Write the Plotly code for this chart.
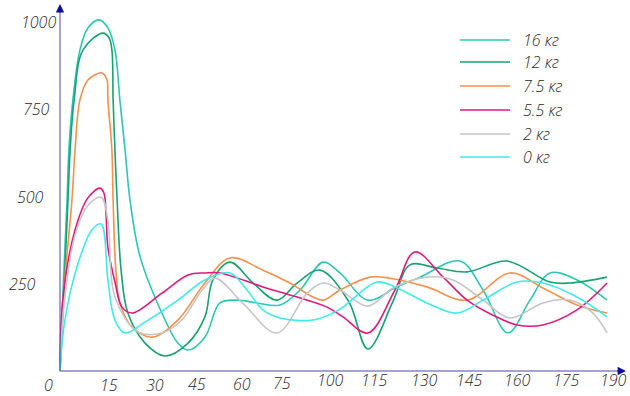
import plotly.graph_objects as go

# ---------------- data ----------------
series_names = ["16 кг", "12 кг", "7.5 кг", "5.5 кг", "2 кг", "0 кг"]
x_tick_labels = ["0", "15", "30", "45", "60", "75", "100", "115", "130", "145", "160", "175", "190"]
y_tick_values = [250, 500, 750, 1000]

x_16 = [0, 1.0, 2.3, 2.9, 4.2, 6.5, 9.1, 12.7, 15.6, 17.9, 19.5, 21.2, 22.8, 26.1, 33.2, 38.4, 41.7,
        47.2, 52.1, 57.7, 64.2, 71.7, 78.2, 85.7, 91.2, 100.3, 109.8, 117.3, 130.3, 137.8, 145.9,
        153.1, 159.6, 168.4, 178.2]
y_16 = [0, 232, 490, 633, 777, 920, 983, 1006, 983, 920, 777, 633, 490, 327, 166, 80, 60,
        97, 195, 203, 195, 189, 232, 312, 281, 203, 241, 269, 315, 232, 109,
        203, 281, 261, 203]

x_12 = [0, 1.3, 2.6, 3.3, 4.6, 7.5, 14.0, 16.0, 16.9, 17.3, 17.9, 18.6, 19.9, 22.1, 27.7, 34.2,
        41.7, 47.2, 49.8, 55.4, 62.9, 70.7, 77.2, 84.7, 94.0, 100.3, 108.5, 114.0, 122.8, 132.6,
        145.6, 159.6, 166.1, 178.2]
y_12 = [0, 232, 490, 633, 777, 920, 968, 954, 920, 777, 633, 490, 289, 166, 80, 43,
        80, 155, 261, 312, 252, 203, 252, 289, 200, 63, 200, 304, 295, 284,
        315, 255, 252, 269]

x_75 = [0, 1.3, 3.9, 4.9, 6.5, 9.1, 13.7, 15.3, 15.6, 16.9, 17.3, 18.2, 19.5, 23.5, 30.0, 38.4, 47.2,
        55.4, 66.1, 74.9, 82.4, 85.7, 91.2, 101.0, 107.5, 119.5, 132.6, 146.6, 157.3, 168.4, 178.2]
y_75 = [0, 232, 490, 633, 777, 834, 854, 834, 777, 633, 490, 289, 195, 126, 97, 146, 252,
        324, 289, 252, 212, 203, 232, 269, 266, 241, 203, 281, 238, 189, 166]

x_55 = [0, 1.0, 4.9, 9.1, 13.0, 14.3, 15.0, 15.6, 17.9, 20.2, 23.5, 33.2, 41.7, 47.2, 52.1, 66.1,
        77.2, 87.0, 92.2, 100.3, 109.1, 115.6, 124.8, 132.6, 141.0, 148.9, 157.3, 168.4, 178.2]
y_55 = [0, 212, 404, 496, 524, 510, 447, 355, 255, 183, 166, 223, 275, 281, 281, 241,
        212, 183, 155, 109, 232, 341, 269, 203, 160, 132, 132, 175, 252]

x_2 = [0, 1.3, 4.9, 9.1, 13.4, 15.6, 17.9, 25.4, 33.2, 39.7, 46.3, 50.5, 60.0, 70.7, 80.5, 85.7,
       91.2, 100.3, 108.5, 119.5, 128.0, 137.8, 146.6, 157.3, 166.1, 173.6, 178.2]
y_2 = [0, 190, 390, 475, 498, 430, 212, 112, 109, 146, 232, 266, 190, 109, 223, 252,
       232, 186, 238, 269, 261, 203, 152, 195, 203, 166, 109]

x_0 = [0, 1.6, 5.9, 10.4, 13.4, 15.6, 17.9, 21.2, 27.7, 38.4, 47.2, 55.4, 60.9, 66.1, 71.7, 82.4,
       88.9, 92.2, 103.3, 109.8, 119.5, 129.3, 137.8, 148.9, 157.3, 168.4, 178.2]
y_0 = [0, 146, 309, 404, 421, 261, 146, 109, 140, 203, 261, 281, 232, 175, 152, 146,
       166, 183, 255, 238, 195, 166, 203, 255, 252, 212, 155]

series_x = [x_16, x_12, x_75, x_55, x_2, x_0]
series_y = [y_16, y_12, y_75, y_55, y_2, y_0]

# ---------------- style ----------------
colors = ["#2cc6b6", "#17a36f", "#f5914a", "#e0187f", "#c6c6c6", "#3feaea"]
axis_color = "#4a4aa6"
arrow_color = "#0c0ca0"
text_color = "#2a2a2a"
font_family = "Open Sans, sans-serif"
tick_font = dict(family=font_family, size=16, weight=300, color=text_color, style="italic")

W, H = 630, 396
x0_px, x_scale = 60, 3.07      # pixel of x=0, pixels per unit
y0_px, y_scale = 371, 0.349    # pixel of y=0, pixels per unit


def ux(px):
    return (px - x0_px) / x_scale


def vy(py):
    return (y0_px - py) / y_scale


fig = go.Figure()
for name, xs, ys, c in zip(series_names, series_x, series_y, colors):
    fig.add_trace(go.Scatter(x=xs, y=ys, mode="lines", name=name,
                             line=dict(color=c, width=1.6, shape="spline", smoothing=1.0),
                             showlegend=False, hoverinfo="skip"))

shapes = []
annotations = []

# axes lines with arrow heads
x_end = ux(626)
y_end = vy(4)
shapes.append(dict(type="line", xref="x", yref="y", x0=0, y0=0, x1=x_end - 2, y1=0,
                   line=dict(color=axis_color, width=1)))
shapes.append(dict(type="line", xref="x", yref="y", x0=0, y0=0, x1=0, y1=y_end - 20,
                   line=dict(color=axis_color, width=1)))
annotations.append(dict(x=x_end, y=0, xref="x", yref="y", ax=-10, ay=0, text="",
                        showarrow=True, arrowhead=2, arrowsize=1.4, arrowwidth=1.2,
                        arrowcolor=arrow_color))
annotations.append(dict(x=0, y=y_end, xref="x", yref="y", ax=0, ay=10, text="",
                        showarrow=True, arrowhead=2, arrowsize=1.4, arrowwidth=1.2,
                        arrowcolor=arrow_color))

# x tick labels (evenly spaced)
x_shift = [-12, 3, 3, -1, -2, -8, -6, -8, -4, -5, -3, 0, 1]
y_shift = [-5, -5, -5, -4, -4, -3, 0, 0, 0, 0, 0, 0, 0]
for i, lab in enumerate(x_tick_labels):
    annotations.append(dict(x=i * 15, y=vy(380), xref="x", yref="y", text=lab,
                            showarrow=False, xanchor="center", yanchor="middle",
                            xshift=x_shift[i], yshift=y_shift[i], font=tick_font))

# y tick labels
y_lab_px = [22, 30, 36, 38]
for v, px in zip(y_tick_values, y_lab_px):
    annotations.append(dict(x=ux(px), y=v, xref="x", yref="y", text=str(v),
                            showarrow=False, xanchor="center", yanchor="middle", font=tick_font))

# legend (manual)
leg_rows_px = [40, 62, 86, 110, 134, 157]
for name, c, py in zip(series_names, colors, leg_rows_px):
    shapes.append(dict(type="line", xref="x", yref="y", x0=ux(460), x1=ux(510),
                       y0=vy(py), y1=vy(py), line=dict(color=c, width=1.6)))
    annotations.append(dict(x=ux(521), y=vy(py), xref="x", yref="y", text=name,
                            showarrow=False, xanchor="left", yanchor="middle", font=tick_font))

fig.update_layout(
    width=W, height=H,
    margin=dict(l=0, r=0, t=0, b=0),
    paper_bgcolor="white", plot_bgcolor="white",
    xaxis=dict(range=[ux(0), ux(W)], visible=False, fixedrange=True),
    yaxis=dict(range=[vy(H), vy(0)], visible=False, fixedrange=True),
    shapes=shapes, annotations=annotations,
    showlegend=False,
)

fig.write_html("out.html")
